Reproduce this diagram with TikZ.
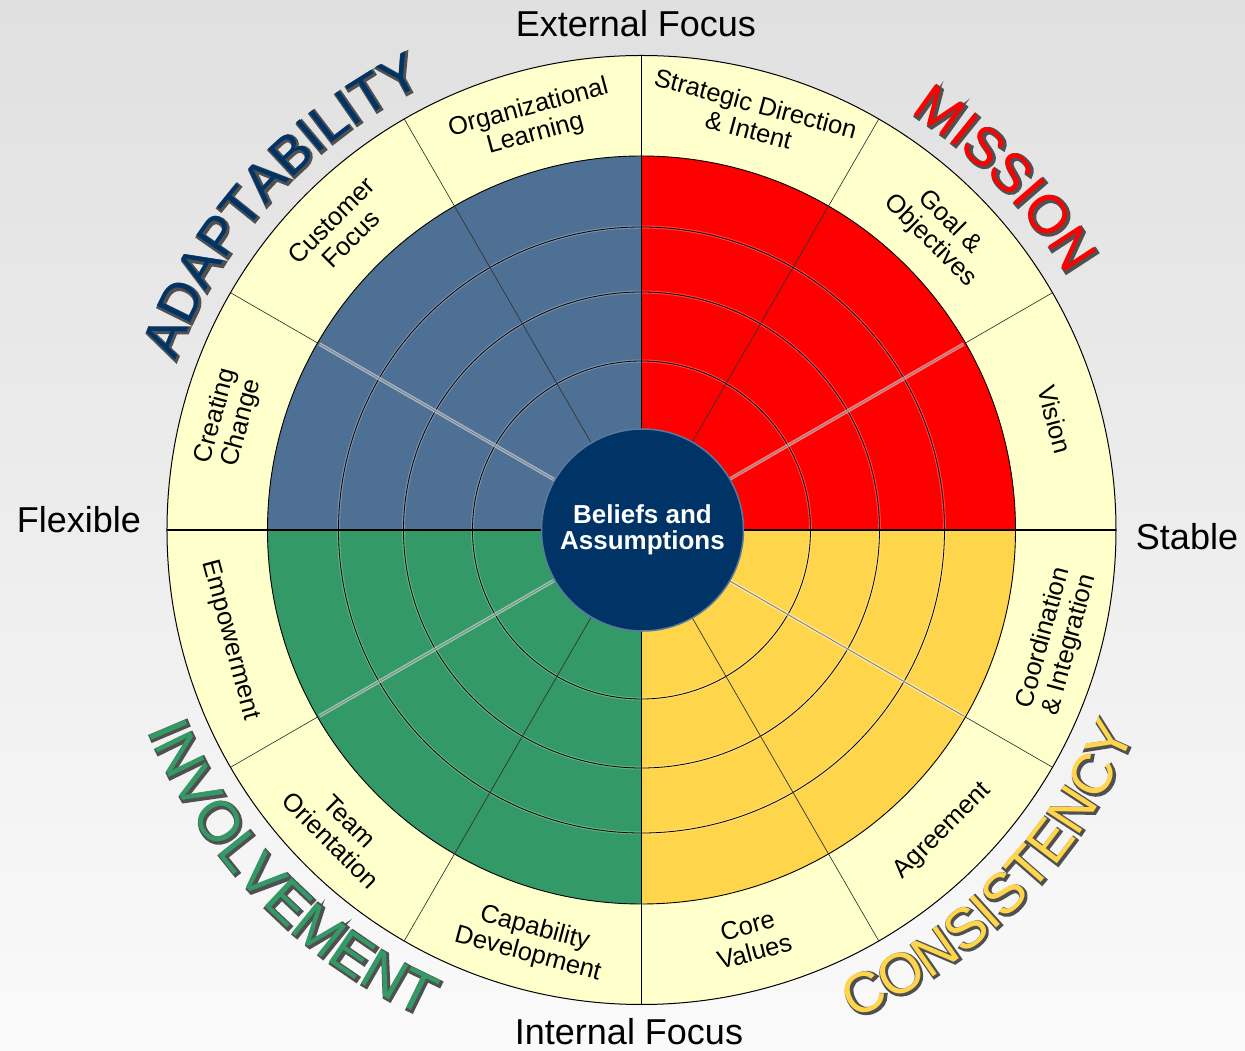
\documentclass[tikz,border=0pt]{standalone}
\usepackage{fontspec}
\setmainfont{Liberation Sans}
\newfontfamily\rimfont[FakeBold=6]{Liberation Sans}
\usetikzlibrary{decorations.text}

\definecolor{adaptblue}{HTML}{4F7095}
\definecolor{missionred}{HTML}{FF0000}
\definecolor{consistyellow}{HTML}{FFD54C}
\definecolor{involvegreen}{HTML}{339966}
\definecolor{bandcream}{HTML}{FFFFCC}
\definecolor{corenavy}{HTML}{003366}
\definecolor{wordedge}{HTML}{505050}
\definecolor{bgtop}{HTML}{E0E0E0}
\definecolor{bgbottom}{HTML}{FAFAFA}

\tikzset{
  bandlabel/.style={font=\fontsize{25.5}{27}\selectfont, align=center, inner sep=0pt},
  axislabel/.style={font=\fontsize{36}{40}\selectfont, inner sep=0pt},
  corecircle/.style={circle, minimum size=202pt, inner sep=0pt, fill=corenavy,
    draw=corenavy!65!white, line width=1.5pt, text=white, align=center,
    font=\fontsize{26}{26}\selectfont\bfseries},
  ringline/.style={line width=0.8pt, preaction={draw=white, draw opacity=0.25, line width=3pt}},
  spoke/.style={line width=0.7pt, draw=black!80},
  glowspoke/.style={line width=0.9pt, draw=black!50, preaction={draw=white, draw opacity=0.5, line width=3.5pt}},
  bandspoke/.style={line width=0.6pt, draw=black!85},
}

% big words set on an arc: a grey emboldened copy gives rim and shadow
\newcommand\topword{\fontsize{54}{54}\selectfont}
\newcommand\lowword{\fontsize{57}{57}\selectfont}
\newcommand\arcword[6]{%
  \path[shift={(1,-1)}, decorate, decoration={text along path, text align=center,
    text={|#6\rimfont\color{wordedge}|#2}}] (#3:#5) arc[start angle=#3, end angle=#4, radius=#5];
  \path[decorate, decoration={text along path, text align=center,
    text={|#6\color{#1}|#2}}] (#3:#5) arc[start angle=#3, end angle=#4, radius=#5];
}

\begin{document}
\begin{tikzpicture}[x=1pt,y=1pt]
  \useasboundingbox (-641.5,-521) rectangle (603.5,530);
  \shade[top color=bgtop, bottom color=bgbottom] (-641.5,-521) rectangle (603.5,530);

  % outer band and the four quadrants
  \fill[bandcream] (0,0) circle[radius=474.5];
  \fill[missionred] (0,0) -- (0:374) arc[start angle=0, end angle=90, radius=374] -- cycle;
  \fill[adaptblue] (0,0) -- (90:374) arc[start angle=90, end angle=180, radius=374] -- cycle;
  \fill[involvegreen] (0,0) -- (180:374) arc[start angle=180, end angle=270, radius=374] -- cycle;
  \fill[consistyellow] (0,0) -- (270:374) arc[start angle=270, end angle=360, radius=374] -- cycle;

  \foreach \r in {169,238,303}
    \draw[ringline] (0,0) circle[radius=\r];
  \draw[line width=0.9pt] (0,0) circle[radius=374];

  \foreach \a in {60,120,240,300}
    \draw[spoke] (\a:100) -- (\a:374);
  \foreach \a in {30,150,210,330}
    \draw[glowspoke] (\a:100) -- (\a:372);
  \foreach \a in {30,60,120,150,210,240,300,330}
    \draw[bandspoke] (\a:374) -- (\a:474.5);

  \draw[line width=1.3pt] (180:474.5) -- (0:474.5);
  \draw[line width=1.3pt] (90:474.5) -- (270:474.5);
  \draw[line width=1pt] (0,0) circle[radius=474.5];

  \node[corecircle] (core) at (1,0) {Beliefs and\\Assumptions};

  % labels in the band
  \node[bandlabel, rotate=15] (orglearn) at (105:423) {Organizational\\Learning};
  \node[bandlabel, rotate=45] (custfocus) at (135:425) {Customer\\Focus};
  \node[bandlabel, rotate=75] (creating) at (165:427) {Creating\\Change};
  \node[bandlabel, rotate=-15] (strategic) at (75:428) {Strategic Direction\\\& Intent};
  \node[bandlabel, rotate=-45] (goals) at (45:422) {Goal \&\\Objectives};
  \node[bandlabel, rotate=-75] (vision) at (15:428) {Vision};
  \node[bandlabel, rotate=75] (coord) at (-15:430) {Coordination\\\& Integration};
  \node[bandlabel, rotate=45] (agree) at (-45:426) {Agreement};
  \node[bandlabel, rotate=15] (corevalues) at (-75:423) {Core\\Values};
  \node[bandlabel, rotate=-15] (capability) at (-105:426) {Capability\\Development};
  \node[bandlabel, rotate=-45] (team) at (-135:426) {Team\\Orientation};
  \node[bandlabel, rotate=-75] (empower) at (-165:426) {Empowerment};

  % axis ends
  \node[axislabel] (external) at (-5.5,506) {External Focus};
  \node[axislabel] (internal) at (-12.5,-502) {Internal Focus};
  \node[axislabel] (flexible) at (-562.5,10) {Flexible};
  \node[axislabel] (stable) at (545.5,-7) {Stable};

  % the four traits
  \arcword{corenavy}{ADAPTABILITY}{178}{98}{496}{\topword}
  \arcword{missionred}{MISSION}{84}{4}{496}{\topword}
  \arcword{consistyellow}{CONSISTENCY}{-84.4}{-4.4}{533}{\lowword}
  \arcword{involvegreen}{INVOLVEMENT}{-176}{-96}{533}{\lowword}
\end{tikzpicture}
\end{document}
